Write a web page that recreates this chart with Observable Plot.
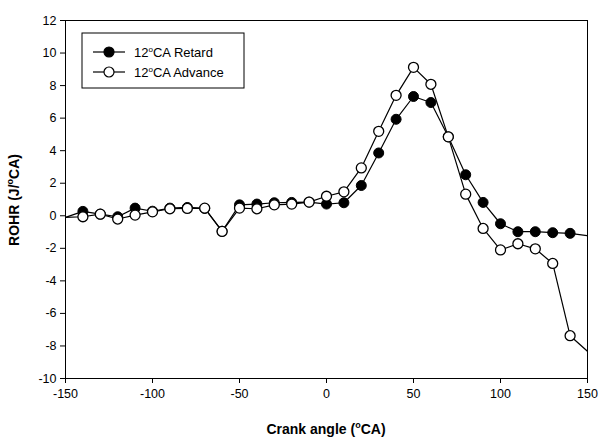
<!DOCTYPE html>
<html>
<head>
<meta charset="utf-8">
<script src="https://cdn.jsdelivr.net/npm/d3@7"></script>
<script src="https://cdn.jsdelivr.net/npm/@observablehq/plot@0.6"></script>
<style>
  body { margin: 0; background: #fff; }
  #chart { width: 601px; height: 441px; }
</style>
</head>
<body>
<div id="chart"></div>
<script>
const angles = [-150,-140,-130,-120,-110,-100,-90,-80,-70,-60,-50,-40,-30,-20,-10,0,10,20,30,40,50,60,70,80,90,100,110,120,130,140,150];
const retard = [-0.1,0.27,0.1,-0.06,0.47,0.28,0.47,0.51,0.45,-0.95,0.67,0.72,0.8,0.82,0.84,0.72,0.8,1.86,3.86,5.93,7.33,6.96,4.85,2.52,0.82,-0.49,-0.98,-0.98,-1.04,-1.08,-1.23];
const advance = [-0.1,-0.06,0.1,-0.2,0.04,0.24,0.43,0.45,0.47,-0.96,0.47,0.43,0.67,0.72,0.84,1.2,1.47,2.94,5.19,7.4,9.12,8.08,4.85,1.33,-0.78,-2.1,-1.72,-2.03,-2.93,-7.37,-8.33];
const xTicks = [-150,-100,-50,0,50,100,150];
const yTicks = [-10,-8,-6,-4,-2,0,2,4,6,8,10,12];
const seriesNames = ["12", "CA Retard", "CA Advance"];

const ret = angles.map((a, i) => ({x: a, y: retard[i]}));
const adv = angles.map((a, i) => ({x: a, y: advance[i]}));
const inner = d => d.x > -150 && d.x < 150;

const svg = Plot.plot({
  width: 601,
  height: 441,
  marginLeft: 65,
  marginRight: 14,
  marginTop: 20,
  marginBottom: 63,
  style: {fontFamily: "'Liberation Sans', Arial, sans-serif", fontSize: "12px", background: "#fff", color: "#000"},
  x: {domain: [-150, 150]},
  y: {domain: [-10, 12]},
  marks: [
    Plot.frame({stroke: "#000", strokeWidth: 1}),
    Plot.axisX({ticks: xTicks, tickSize: 5, tickPadding: 6, label: null, fontSize: 12.5, tickFormat: d => String(d)}),
    Plot.axisY({ticks: yTicks, tickSize: 5, tickPadding: 4, label: null, fontSize: 12.5, tickFormat: d => String(d)}),
    Plot.line(ret, {x: "x", y: "y", stroke: "#000", strokeWidth: 1.2, clip: true}),
    Plot.dot(ret.filter(inner), {x: "x", y: "y", r: 5, fill: "#000", stroke: "#000", strokeWidth: 1}),
    Plot.line(adv, {x: "x", y: "y", stroke: "#000", strokeWidth: 1.2, clip: true}),
    Plot.dot(adv.filter(inner), {x: "x", y: "y", r: 5, fill: "#fff", stroke: "#000", strokeWidth: 1.3})
  ]
});
document.getElementById("chart").appendChild(svg);

const s = d3.select(svg);
const ff = "'Liberation Sans', Arial, sans-serif";

// x axis title
const xt = s.append("text").attr("x", 326).attr("y", 434).attr("text-anchor", "middle")
  .attr("font-family", ff).attr("font-size", 14).attr("font-weight", "bold").attr("fill", "#000");
xt.append("tspan").text("Crank angle (");
xt.append("tspan").attr("font-size", 9).attr("dy", -6).text("o");
xt.append("tspan").attr("dy", 6).text("CA)");

// y axis title
const yt = s.append("text").attr("transform", "translate(19,200) rotate(-90)").attr("text-anchor", "middle")
  .attr("font-family", ff).attr("font-size", 14).attr("font-weight", "bold").attr("fill", "#000");
yt.append("tspan").text("ROHR (J/");
yt.append("tspan").attr("font-size", 9).attr("dy", -6).text("o");
yt.append("tspan").attr("dy", 6).text("CA)");

// legend
const lg = s.append("g");
lg.append("rect").attr("x", 82).attr("y", 33).attr("width", 162).attr("height", 55)
  .attr("fill", "#fff").attr("stroke", "#000").attr("stroke-width", 1);
const rows = [{y: 52, fill: "#000", name: seriesNames[1]}, {y: 72, fill: "#fff", name: seriesNames[2]}];
rows.forEach(r => {
  lg.append("line").attr("x1", 93).attr("x2", 125).attr("y1", r.y).attr("y2", r.y).attr("stroke", "#000").attr("stroke-width", 1.2);
  lg.append("circle").attr("cx", 109).attr("cy", r.y).attr("r", 5).attr("fill", r.fill).attr("stroke", "#000").attr("stroke-width", 1.2);
  const t = lg.append("text").attr("x", 134).attr("y", r.y + 4.5).attr("text-anchor", "start")
    .attr("font-family", ff).attr("font-size", 13).attr("fill", "#000");
  t.append("tspan").text(seriesNames[0]);
  t.append("tspan").attr("font-size", 8).attr("dy", -5).text("o");
  t.append("tspan").attr("dy", 5).text(r.name);
});
</script>
</body>
</html>
